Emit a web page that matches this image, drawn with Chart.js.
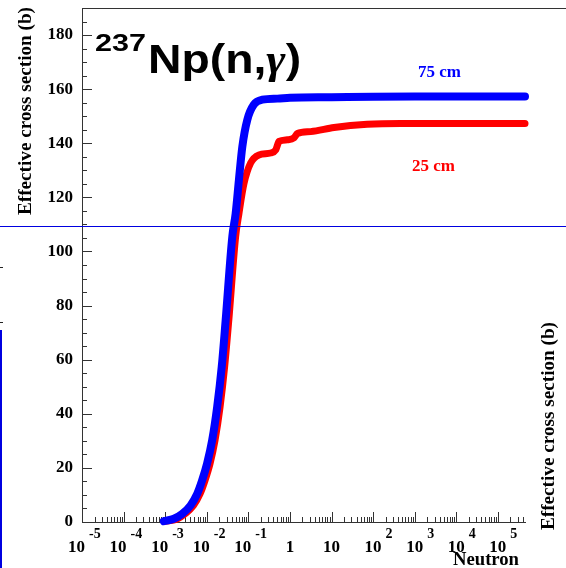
<!DOCTYPE html>
<html>
<head>
<meta charset="utf-8">
<script src="https://cdn.jsdelivr.net/npm/chart.js@4.4.0/dist/chart.umd.min.js"></script>
<style>
  html, body { margin: 0; padding: 0; background: #fff; overflow: hidden; }
  canvas { display: block; }
</style>
</head>
<body>
<canvas id="chart" width="566" height="568"></canvas>
<script>
// 237Np(n,gamma) effective cross section vs neutron energy (MeV)

const energy75 = [9.3e-4, 1.62e-3, 2.57e-3, 4.07e-3, 5.89e-3, 7.76e-3, 1.02e-2, 1.35e-2, 1.78e-2, 2.29e-2,
  2.85e-2, 4.12e-2, 4.95e-2, 5.94e-2, 7.18e-2, 9.46e-2, 0.136, 0.217, 0.5, 1, 10, 100, 1000, 4.5e5];
const section75 = [0.3, 1.2, 3.0, 6.1, 10.4, 15.4, 21.6, 30.2, 42.5, 57.3,
  74.6, 105.5, 114, 126.5, 138.8, 148.7, 154.3, 156.1, 156.5, 156.8, 157.0, 157.2, 157.3, 157.3];

const energy25 = [1.0e-3, 1.9e-3, 3.0e-3, 4.8e-3, 6.9e-3, 9.1e-3, 1.2e-2, 1.58e-2, 2.09e-2, 2.69e-2,
  3.39e-2, 4.95e-2, 5.94e-2, 7.83e-2, 0.1135, 0.18, 0.344, 0.457, 0.55, 0.87, 1.26, 1.51, 3.16, 11.5, 72, 457, 4.5e5];
const section25 = [0.3, 1.0, 3.0, 6.1, 10.4, 15.4, 21.6, 30.2, 42.5, 57.3,
  74.6, 105.5, 114, 125, 132.7, 135.7, 136.4, 137.6, 140.7, 141.3, 142, 143.6, 144.3, 145.8, 147.0, 147.3, 147.3];

const decades = [-5, -4, -3, -2, -1, 0, 1, 2, 3, 4, 5];
const yLabelStep = 20;

const serif = '"Liberation Serif", "DejaVu Serif", serif';
const sans = '"Liberation Sans", Arial, sans-serif';

function toPoints(xs, ys) {
  return xs.map((x, i) => ({ x, y: ys[i] }));
}

function hline(ctx, x1, x2, y) {
  ctx.beginPath(); ctx.moveTo(x1, y); ctx.lineTo(x2, y); ctx.stroke();
}
function vline(ctx, x, y1, y2) {
  ctx.beginPath(); ctx.moveTo(x, y1); ctx.lineTo(x, y2); ctx.stroke();
}

// text squeezed/stretched horizontally to a width, left aligned
function fitText(ctx, text, x, y, width) {
  const w = ctx.measureText(text).width;
  ctx.save();
  ctx.translate(x, y);
  ctx.scale(width / w, 1);
  ctx.fillText(text, 0, 0);
  ctx.restore();
}

const frameTicks = {
  id: 'frameTicks',
  beforeDatasetsDraw(chart) {
    const { ctx, chartArea: a, scales: { x, y } } = chart;
    ctx.save();
    ctx.strokeStyle = '#333';
    ctx.lineWidth = 1;
    // top frame line runs off the right edge
    hline(ctx, a.left, chart.width, a.top + 0.5);

    for (let v = 0; v <= 190; v += 5) {
      const py = Math.round(y.getPixelForValue(v)) + 0.5;
      hline(ctx, a.left, a.left + (v % yLabelStep === 0 ? 10 : 5), py);
    }
    decades.forEach(d => {
      for (let m = 1; m <= 9; m++) {
        const v = m * Math.pow(10, d);
        if (v < x.min || v > x.max) continue;
        const px = Math.round(x.getPixelForValue(v)) + 0.5;
        vline(ctx, px, a.bottom, a.bottom - (m === 1 ? 10 : 5));
      }
    });
    ctx.restore();
  },
  afterDraw(chart) {
    const { ctx, scales: { x } } = chart;
    ctx.save();
    ctx.fillStyle = '#000';
    ctx.textBaseline = 'alphabetic';

    // x tick labels with exponents
    decades.forEach(d => {
      const px = x.getPixelForValue(Math.pow(10, d));
      ctx.font = 'bold 17px ' + serif;
      ctx.textAlign = 'center';
      if (d === 0) { ctx.fillText('1', px, 552); return; }
      const cx = d < 0 ? px - 5.5 : px;
      ctx.fillText('10', cx, 552);
      if (d === 1) return;
      const w = ctx.measureText('10').width;
      ctx.font = 'bold 14px ' + serif;
      ctx.textAlign = 'left';
      ctx.fillText(d < 0 ? '-' + (-d) : String(d), cx + w / 2 + 4, 538);
    });

    // axis titles
    ctx.font = 'bold 18px ' + serif;
    ctx.textAlign = 'left';
    fitText(ctx, 'Neutron', 453, 565, 66);
    [[25, 111], [548, 426]].forEach(([tx, ty]) => {
      ctx.save();
      ctx.translate(tx, ty);
      ctx.rotate(-Math.PI / 2);
      fitText(ctx, 'Effective cross section (b)', -104, 6, 208);
      ctx.restore();
    });

    // nuclide / reaction label
    ctx.font = 'bold 23px ' + sans;
    fitText(ctx, '237', 95, 51, 51);
    ctx.font = 'bold 41px ' + sans;
    ctx.save();
    ctx.translate(148, 73);
    ctx.scale(1.13, 1);
    let tx = 0;
    ctx.fillText('Np(n,', tx, 0);
    tx += ctx.measureText('Np(n,').width;
    ctx.font = 'italic bold 41px ' + serif;
    ctx.fillText('\u03b3', tx, 0);
    tx += ctx.measureText('\u03b3').width;
    ctx.font = 'bold 41px ' + sans;
    ctx.fillText(')', tx, 0);
    ctx.restore();

    // series labels
    ctx.font = 'bold 17px ' + serif;
    ctx.fillStyle = '#0000ff';
    ctx.fillText('75 cm', 418, 77);
    ctx.fillStyle = '#ff0000';
    ctx.fillText('25 cm', 412, 171);

    // stray blue lines and marks from the neighbouring pad
    ctx.strokeStyle = '#0000e0';
    ctx.lineWidth = 1;
    hline(ctx, 0, chart.width, 226.5);
    ctx.lineWidth = 2;
    vline(ctx, 1, 330, chart.height);
    ctx.strokeStyle = '#222';
    ctx.lineWidth = 1;
    hline(ctx, 0, 3, 267.5);
    hline(ctx, 0, 3, 322.5);
    ctx.restore();
  }
};

function noPad(s) {
  s.paddingTop = 0; s.paddingBottom = 0; s.paddingLeft = 0; s.paddingRight = 0;
}

new Chart(document.getElementById('chart'), {
  type: 'line',
  data: {
    datasets: [
      {
        label: '75 cm',
        data: toPoints(energy75, section75),
        borderColor: '#0000ff',
        borderWidth: 8,
        borderCapStyle: 'round',
        pointRadius: 0,
        cubicInterpolationMode: 'monotone',
        clip: false
      },
      {
        label: '25 cm',
        data: toPoints(energy25, section25),
        borderColor: '#ff0000',
        borderWidth: 7,
        borderCapStyle: 'round',
        pointRadius: 0,
        cubicInterpolationMode: 'monotone',
        clip: false
      }
    ]
  },
  options: {
    responsive: false,
    animation: false,
    devicePixelRatio: 1,
    layout: { padding: { top: 8, right: 41, left: 0, bottom: 0 } },
    plugins: { legend: { display: false }, tooltip: { enabled: false } },
    scales: {
      x: {
        type: 'logarithmic',
        min: 1e-5,
        max: 4.5e5,
        grid: { display: false, drawTicks: false },
        border: { display: true, color: '#333', width: 1 },
        ticks: { display: false },
        afterFit: s => { s.height = 46; noPad(s); }
      },
      y: {
        min: 0,
        max: 190,
        grid: { display: false, drawTicks: false },
        border: { display: true, color: '#333', width: 1 },
        ticks: {
          stepSize: 5,
          autoSkip: false,
          padding: 9,
          color: '#000',
          font: { family: serif, weight: 'bold', size: 17 },
          callback: v => (v % yLabelStep === 0 ? v : '')
        },
        afterFit: s => { s.width = 82; noPad(s); }
      }
    }
  },
  plugins: [frameTicks]
});
</script>
</body>
</html>
